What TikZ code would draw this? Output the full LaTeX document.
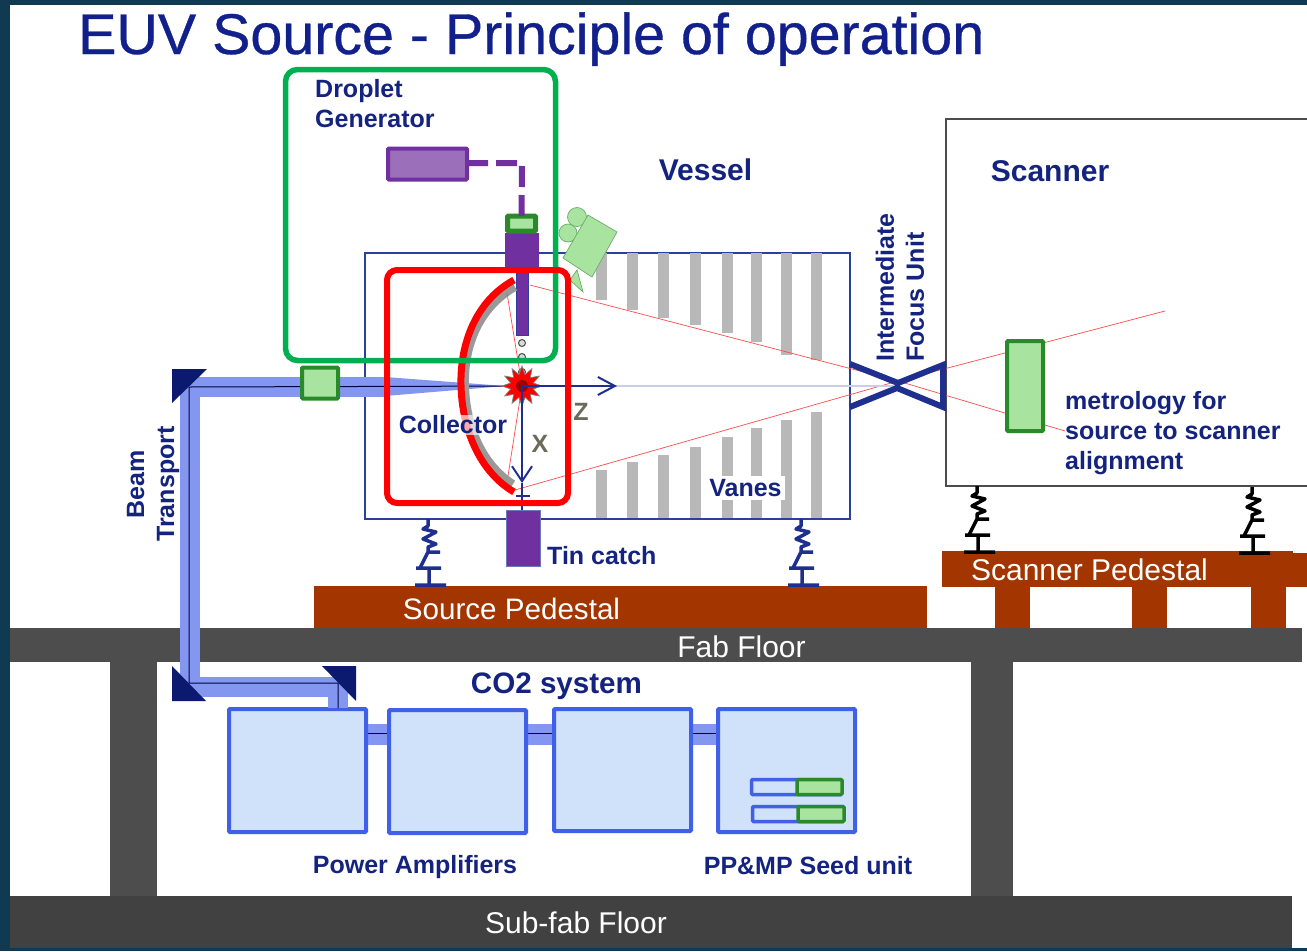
\documentclass[tikz,border=0pt]{standalone}
\usepackage{fontspec}
\setmainfont{Liberation Sans}
\newfontfamily\titlefont[FakeBold=0.6]{Liberation Sans}
\usepackage{xcolor}
\usetikzlibrary{arrows.meta, shapes.geometric}
\definecolor{navytext}{HTML}{14237F}
\definecolor{edgeblue}{HTML}{2B3F9E}
\definecolor{navyline}{HTML}{1F2F90}
\definecolor{mirrorblue}{HTML}{0B1A6E}
\definecolor{beamblue}{HTML}{8497F0}
\definecolor{ampblue}{HTML}{CFE2F9}
\definecolor{ampedge}{HTML}{4060E8}
\definecolor{floorgray}{HTML}{4D4D4D}
\definecolor{pedestal}{HTML}{A33600}
\definecolor{lightgreen}{HTML}{A8E4A0}
\definecolor{darkgreen}{HTML}{2A8A2A}
\definecolor{framegreen}{HTML}{00B050}
\definecolor{purpledark}{HTML}{7030A0}
\definecolor{purplelight}{HTML}{9B6FBA}
\definecolor{slide}{HTML}{0F3A52}
\definecolor{axisgray}{HTML}{6B6B5A}

\begin{document}
\begin{tikzpicture}[
    x=1pt, y=-1pt,
    block/.style={rectangle, inner sep=0pt, outer sep=0pt},
    floorbar/.style={block, fill=floorgray, text=white, font=\fontsize{30}{30}\selectfont},
    pedbar/.style={block, fill=pedestal},
    ampbox/.style={block, draw=ampedge, fill=ampblue, line width=4pt, rounded corners=1pt},
    greenbox/.style={block, draw=darkgreen, fill=lightgreen, line width=4pt, rounded corners=1pt},
    purplebox/.style={block, draw=purpledark, fill=purpledark},
    mirror/.style={fill=mirrorblue},
    vane/.style={fill=black!28},
    ray/.style={draw=red!70!white, line width=0.7pt},
    beamband/.style={draw=beamblue, line width=20pt},
    beamline/.style={draw=black!75!blue, line width=1pt},
    axis/.style={draw=navyline, line width=2pt, -{Straight Barb[length=15pt,width=20pt,line width=2pt]}},
    label/.style={text=navytext, font=\fontsize{25}{30}\selectfont\bfseries, inner sep=0pt},
    biglabel/.style={text=navytext, font=\fontsize{30}{30}\selectfont\bfseries, inner sep=0pt},
    axislabel/.style={text=axisgray, font=\fontsize{25}{25}\selectfont\bfseries, inner sep=0pt},
    spring/.pic={
        \draw[line width=3.5pt, line join=round] (0,0) -- (0,7) -- (-5,10) -- (8,13) -- (-5,20) -- (8,25) -- (0,28) -- (0,33) -- (12,33)
            (0,33) -- (-8,49) (-12,49) -- (13,49) (1,49) -- (1,66) (-13,66) -- (18,66);
    },
    ]

    \useasboundingbox (0,0) rectangle (1307,951);
    % slide background
    \fill[white] (0,0) rectangle (1307,951);
    \fill[slide] (0,0) rectangle (10,951);
    \fill[slide] (0,0) rectangle (1307,5);
    \fill[slide] (0,948) rectangle (1307,951);

    \node[label, text=navytext!90!blue, font=\fontsize{57.4}{60}\titlefont, anchor=base west] (title) at (78,54) {EUV Source - Principle of operation};

    % floors and pedestals
    \node[floorbar, minimum width=47pt, minimum height=234pt] (pillarl) at (133.5,779) {};
    \node[floorbar, minimum width=42pt, minimum height=234pt] (pillarr) at (992,779) {};
    \node[floorbar, minimum width=1292pt, minimum height=34pt] (fabfloor) at (656,645) {};
    \node[text=white, font=\fontsize{30}{30}\selectfont, inner sep=0pt] (fabtext) at (741.5,647) {Fab Floor};
    \node[floorbar, fill=floorgray!85!black, minimum width=1282pt, minimum height=52pt] (subfloor) at (651,922) {};
    \node[text=white, font=\fontsize{30}{30}\selectfont, inner sep=0pt] (subtext) at (576,923) {Sub-fab Floor};
    \node[pedbar, minimum width=613pt, minimum height=42pt] (srcped) at (620.5,607) {};
    \node[text=white, font=\fontsize{29.6}{30}\selectfont, inner sep=0pt] (srctext) at (511.5,609) {Source Pedestal};
    \node[pedbar, minimum width=365pt, minimum height=34pt] (scanped) at (1124.5,570) {};
    \node[pedbar, minimum width=351pt, minimum height=3pt] (scanlip) at (1117.5,552) {};
    \node[text=white, font=\fontsize{30}{30}\selectfont, inner sep=0pt] (scantext) at (1089.5,570) {Scanner Pedestal};
    \foreach \legx/\legname in {1012.5/lega, 1149/legb, 1268.5/legc} {
        \node[pedbar, minimum width=35pt, minimum height=41pt] (\legname) at (\legx,607.5) {};
    }

    % scanner and vessel
    \node[block, draw=black!70, fill=white, line width=1.5pt, minimum width=380pt, minimum height=367pt] (scanner) at (1136,302.5) {};
    \node[block, draw=edgeblue, line width=1.5pt, minimum width=485pt, minimum height=266pt] (vessel) at (607.5,386) {};

    % vanes: x, bottom of upper vane, top of lower vane
    \foreach \vx/\vtop/\vlow in {601/300/470, 632/310/462, 663/318/455, 695/325/447, 727/333/437, 756/342/428, 786/355/420, 816/360/412} {
        \fill[vane] (\vx-5.5,253) rectangle (\vx+5.5,\vtop);
        \fill[vane] (\vx-5.5,\vlow) rectangle (\vx+5.5,518);
    }
    \node[label, fill=white, inner sep=3pt] (vanes) at (745.5,488) {Vanes};

    % CO2 system
    \coordinate (stubend) at (338,708);
    \draw[beamband, line width=21pt] (338,734) -- (720,734);
    \draw[beamline] (338,733) -- (720,733);
    \node[ampbox, minimum width=137pt, minimum height=123pt] (amp1) at (297.5,770.5) {};
    \node[ampbox, minimum width=137pt, minimum height=123pt] (amp2) at (457.5,771.5) {};
    \node[ampbox, minimum width=137pt, minimum height=122pt] (amp3) at (622.5,770) {};
    \node[ampbox, minimum width=137pt, minimum height=123pt] (seed) at (786.5,770.5) {};
    \node[ampbox, line width=3.5pt, minimum width=90pt, minimum height=15pt] (seeda) at (796.5,787) {};
    \node[greenbox, line width=3.5pt, minimum width=45pt, minimum height=15pt] (seedag) at (819.5,787) {};
    \node[ampbox, line width=3.5pt, minimum width=91pt, minimum height=15pt] (seedb) at (798,814) {};
    \node[greenbox, line width=3.5pt, minimum width=46pt, minimum height=15pt] (seedbg) at (821,814) {};

    % beam transport
    \coordinate (m1) at (189.5,386.5);
    \coordinate (m2) at (189.5,686.5);
    \coordinate (m3) at (338,686.5);
    \coordinate (beamin) at (385,386.5);
    \coordinate (focus) at (522,386);
    \draw[beamband] (beamin) -- (m1) -- (m2) -- (m3) -- (stubend);
    \fill[beamblue] (385,377) -- (505,386) -- (385,396) -- cycle;
    \draw[beamline] (focus) -- (189,387) -- (189,683) -- (338,683) -- (stubend);
    \fill[mirror] (172,369) -- (207,369) -- (172,403) -- cycle;
    \fill[mirror] (172,666) -- (206,701) -- (172,701) -- cycle;
    \fill[mirror] (322,666) -- (356,666) -- (356,701) -- cycle;
    \node[greenbox, minimum width=36pt, minimum height=31pt] (window) at (320,383) {};

    % droplet generator
    \node[block, draw=purpledark, fill=purplelight, line width=4pt, rounded corners=1pt, minimum width=79pt, minimum height=31pt] (dropbox) at (427.5,164) {};
    \node[purplebox, minimum width=33pt, minimum height=36pt] (nozzle) at (521.5,251) {};
    \node[greenbox, line width=5pt, minimum width=28pt, minimum height=15pt] (nozzlecap) at (521.5,223.5) {};
    \node[purplebox, draw=edgeblue, minimum width=12pt, minimum height=67pt] (tube) at (522,301.5) {};
    \draw[purpledark, line width=6pt, dash pattern=on 21pt off 8pt] (dropbox.east |- 0,163) -- (522,163) -- (nozzlecap.north);
    \foreach \dy/\dname in {343/da, 357/db, 372/dc} {
        \node[circle, draw=black!70, fill=black!15, line width=1pt, inner sep=0pt, minimum width=7pt, minimum height=6pt] (\dname) at (522,\dy) {};
    }
    \node[block, fill=purpledark, draw=edgeblue!70, minimum width=34pt, minimum height=56pt] (tincatch) at (523,538) {};

    % camera
    \fill[lightgreen, draw=darkgreen!70, line width=0.7pt] (577,270) -- (583,292) -- (570,280) -- cycle;
    \node[circle, fill=lightgreen, draw=darkgreen!70, line width=0.7pt, minimum size=18pt, inner sep=0pt] (reela) at (568,233) {};
    \node[circle, fill=lightgreen, draw=darkgreen!70, line width=0.7pt, minimum size=19pt, inner sep=0pt] (reelb) at (577,217) {};
    \fill[lightgreen, draw=darkgreen!70, line width=0.7pt] (588,215) -- (617,232) -- (592,277) -- (563,258) -- cycle;

    % collector
    \draw[black!40, line width=8pt] (515,287) .. controls (475,310) and (464,352) .. (465,385) .. controls (466,428) and (483,465) .. (513,484);
    \draw[red, line width=7pt] (514,280) .. controls (472,303) and (460,350) .. (461,385) .. controls (462,430) and (480,472) .. (514,492);

    % rays
    \coordinate (rayatop) at (530,285);
    \coordinate (raybot) at (515,490);
    \coordinate (ifocus) at (898,381);
    \coordinate (rayaend) at (1065,431);
    \coordinate (raybend) at (1165,311);
    \coordinate (raytopin) at (507,293);
    \coordinate (raylowin) at (508,476);
    \draw[ray] (rayatop) -- (ifocus) -- (rayaend);
    \draw[ray] (raybot) -- (ifocus) -- (raybend);
    \draw[ray] (raytopin) -- (focus) -- (raylowin);
    \draw[edgeblue!25, line width=1.5pt] (focus) -- (ifocus |- focus);

    % axes and plasma
    \node[star, star points=12, star point ratio=1.7, minimum size=40pt, inner sep=0pt, fill=red, draw=black!50, line width=0.7pt] (plasma) at (focus) {};
    \node[circle, fill=red!60!black, minimum size=12pt, inner sep=0pt] (plasmacore) at (focus) {};
    \coordinate (zend) at (617,386);
    \coordinate (xend) at (522,483);
    \coordinate (xstem) at (522,510);
    \draw[axis, -{Straight Barb[length=17pt,width=18pt,line width=2pt]}] (focus) -- (zend);
    \draw[axis] (focus) -- (xend);
    \draw[navyline, line width=1.5pt] (xend) -- (xstem);
    \draw[navyline, line width=2pt] (516,496) -- (530,496);
    \node[axislabel] (zlabel) at (581,412) {Z};
    \node[axislabel] (xlabel) at (540,444) {X};

    % intermediate focus and scanner metrology
    \draw[navyline, line width=6pt, line join=miter] (850,364) -- (898,383) -- (943,365) -- (943,407) -- (897,388) -- (850,407);
    \node[greenbox, minimum width=36pt, minimum height=90pt] (metrobox) at (1025,386) {};

    % frames
    \node[block, draw=framegreen, line width=5.5pt, rounded corners=12pt, minimum width=270pt, minimum height=291pt] (dropframe) at (420.5,215) {};
    \node[block, draw=red, line width=6pt, rounded corners=10pt, minimum width=181pt, minimum height=233pt] (colframe) at (477.5,386.5) {};

    % springs
    \pic[draw=navyline] at (428,519) {spring};
    \pic[draw=navyline] at (801,519) {spring};
    \pic[draw=black] at (977,486) {spring};
    \pic[draw=black] at (1252,487) {spring};

    % labels
    \node[label, align=left, anchor=north west] (droptext) at (315,79) {Droplet\\Generator};
    \node[biglabel] (vesseltext) at (705.5,170) {Vessel};
    \node[biglabel] (scannertext) at (1050,171) {Scanner};
    \node[label, fill=white, fill opacity=0.65, text opacity=1, inner sep=1pt] (coltext) at (453,425) {Collector};
    \node[label, anchor=west] (tintext) at (547,556) {Tin catch};
    \node[biglabel, font=\fontsize{29.6}{30}\selectfont\bfseries] (co2text) at (556.5,686) {CO2 system};
    \node[label] (powertext) at (415,867) {Power Amplifiers};
    \node[label] (seedtext) at (808,866) {PP\&MP Seed unit};
    \node[label, align=left, anchor=north west] (metrotext) at (1065,391) {metrology for\\source to scanner\\alignment};
    \node[label, align=center, rotate=90] (beamtext) at (153,484) {Beam\\Transport};
    \node[label, align=left, rotate=90, anchor=west] (iftext) at (900,362) {Intermediate\\Focus Unit};
\end{tikzpicture}
\end{document}
